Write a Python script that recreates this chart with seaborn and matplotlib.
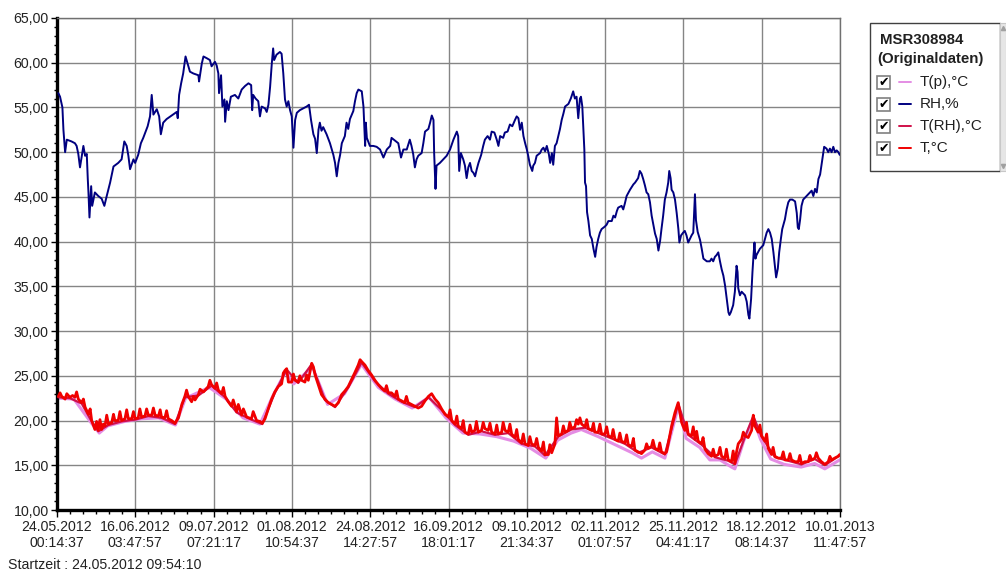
import numpy as np
import pandas as pd
import matplotlib
matplotlib.use("Agg")
import matplotlib.pyplot as plt
import seaborn as sns
from matplotlib.patches import Rectangle
from matplotlib.lines import Line2D
import matplotlib.ticker as mticker

sns.set_style("white")
plt.rcParams["font.family"] = ["Liberation Sans", "DejaVu Sans"]

# ---------------------------------------------------------------- axis labels
tick_dates = ["24.05.2012", "16.06.2012", "09.07.2012", "01.08.2012", "24.08.2012",
              "16.09.2012", "09.10.2012", "02.11.2012", "25.11.2012", "18.12.2012",
              "10.01.2013"]
tick_times = ["00:14:37", "03:47:57", "07:21:17", "10:54:37", "14:27:57",
              "18:01:17", "21:34:37", "01:07:57", "04:41:17", "08:14:37",
              "11:47:57"]
y_ticks = [10, 15, 20, 25, 30, 35, 40, 45, 50, 55, 60, 65]
logger_name = "MSR308984"
start_text = "Startzeit : 24.05.2012 09:54:10"

# ---------------------------------------------------------------- RH, %
# time in days since 24.05.2012 00:14:37
rh_day = [0.4, 0.9, 1.6, 1.9, 2.4, 2.9, 4.3, 5.3, 5.8, 6.3, 6.8, 7.8, 8.3, 8.8, 9.1, 9.3,
          9.6, 10.1, 10.4, 11.2, 12.2, 13.2, 14.0, 14.7, 15.7, 16.7, 18.1, 19.1, 19.9,
          20.6, 21.1, 21.6, 22.6, 23.1, 24.0, 24.8, 25.5, 26.8, 27.5, 28.0, 28.5, 29.5,
          30.2, 30.7, 31.4, 32.4, 33.9, 35.4, 35.7, 36.1, 36.7, 37.3, 38.0, 38.6, 39.3,
          40.3, 41.8, 42.0, 42.8, 43.3, 44.3, 45.2, 45.7, 46.7, 47.2, 47.7, 47.9, 48.5,
          48.9, 49.5, 49.7, 50.2, 50.7, 51.4, 52.6, 53.6, 54.6, 55.6, 56.6, 57.4, 57.7,
          58.0, 58.7, 59.5, 60.0, 60.5, 61.5, 62.0, 62.5, 63.0, 63.5, 63.9, 64.2, 64.9,
          65.9, 66.4, 66.9, 67.4, 67.9, 68.4, 68.9, 69.4, 69.9, 70.4, 70.9, 71.8, 72.8,
          73.8, 74.5, 75.1, 75.8, 76.3, 76.8, 77.3, 77.7, 78.2, 78.7, 79.7, 80.7, 81.7,
          82.2, 82.7, 83.2, 83.7, 84.2, 85.1, 85.6, 86.1, 86.6, 87.6, 88.1, 88.6, 89.1,
          90.1, 90.6, 91.1, 91.3, 91.6, 92.5, 93.5, 94.5, 95.5, 96.5, 97.5, 98.5, 98.9,
          99.9, 100.9, 101.7, 102.4, 103.4, 104.3, 104.8, 105.3, 105.8, 106.3, 106.8,
          107.8, 108.3, 108.8, 109.8, 110.3, 110.8, 111.3, 111.5, 111.9, 112.2, 113.2,
          114.2, 115.2, 116.2, 117.2, 118.2, 118.6, 118.9, 119.4, 120.1, 120.6, 121.1,
          121.6, 122.1, 122.6, 123.1, 123.6, 124.1, 124.6, 125.4, 126.0, 126.5, 127.3,
          128.0, 128.5, 129.3, 130.0, 130.5, 131.0, 131.9, 132.4, 133.2, 133.9, 134.6,
          135.4, 135.9, 136.4, 136.9, 137.4, 137.9, 138.4, 138.9, 139.3, 139.8, 140.5,
          140.8, 141.3, 141.8, 142.8, 143.3, 143.8, 144.3, 144.8, 145.4, 145.8, 146.3,
          146.7, 147.2, 147.7, 148.2, 148.7, 149.2, 149.7, 150.2, 151.2, 151.9, 152.6,
          153.1, 153.6, 154.1, 154.6, 154.9, 155.3, 155.6, 155.9, 156.1, 156.4, 156.7,
          157.1, 157.6, 158.1, 158.6, 159.1, 159.5, 160.0, 160.5, 161.0, 162.0, 162.5,
          163.0, 164.0, 164.5, 165.0, 165.5, 165.9, 166.9, 167.4, 167.9, 168.4, 169.4,
          170.4, 170.9, 171.8, 172.3, 172.8, 173.3, 173.8, 174.3, 174.8, 175.3, 175.8,
          176.3, 176.8, 177.3, 177.8, 178.3, 178.7, 179.2, 179.7, 180.2, 180.7, 181.0,
          181.4, 181.7, 182.2, 182.7, 183.2, 183.7, 184.0, 184.5, 185.1, 185.6, 186.1,
          186.6, 187.1, 187.6, 188.1, 188.6, 188.9, 189.4, 190.1, 190.6, 191.1, 192.1,
          193.0, 193.5, 194.0, 194.5, 195.0, 195.5, 196.0, 196.5, 197.0, 197.5, 198.0,
          198.5, 198.8, 199.2, 199.9, 200.4, 200.9, 201.2, 201.4, 201.9, 202.4, 202.9,
          203.4, 203.9, 204.4, 204.7, 205.2, 205.6, 205.9, 206.2, 206.5, 206.8, 207.8,
          208.8, 209.3, 209.8, 210.3, 210.8, 211.3, 211.8, 212.3, 212.6, 213.1, 213.5,
          214.0, 214.4, 215.2, 215.7, 216.2, 216.7, 217.4, 218.2, 218.7, 219.0, 219.3,
          219.7, 220.1, 220.6, 221.6, 222.6, 223.1, 223.6, 224.1, 224.6, 225.1, 225.6,
          226.1, 226.5, 226.8, 227.5, 228.0, 228.5, 229.0, 229.5, 230.0, 230.5, 231.0,
          231.4]
rh_val = [56.6, 56.2, 55.0, 52.5, 50.0, 51.4, 51.2, 51.0, 50.7, 49.8, 48.3, 50.7, 49.6,
          49.8, 47.0, 45.5, 42.7, 46.2, 44.0, 45.5, 45.1, 44.8, 44.0, 45.1, 46.6, 48.4,
          48.8, 49.2, 51.2, 50.7, 49.6, 48.1, 49.2, 48.8, 49.7, 51.0, 51.6, 52.9, 54.0,
          56.4, 54.2, 54.8, 54.0, 52.0, 53.3, 53.7, 54.1, 54.5, 53.8, 56.4, 57.7, 58.8,
          60.7, 59.9, 59.0, 58.8, 58.6, 57.9, 59.9, 60.7, 60.5, 60.3, 59.6, 60.1, 59.7,
          58.8, 56.6, 58.6, 55.1, 55.9, 53.4, 55.7, 54.7, 56.2, 56.4, 56.0, 57.0, 57.4,
          57.7, 57.5, 54.7, 56.4, 56.0, 55.7, 54.0, 55.1, 54.9, 54.5, 55.3, 57.3, 59.9,
          61.6, 60.3, 60.9, 61.2, 61.0, 58.8, 55.9, 55.1, 55.7, 54.7, 54.0, 50.5, 53.6,
          54.4, 54.7, 54.9, 55.1, 55.3, 53.6, 52.0, 51.5, 49.9, 52.5, 53.3, 52.4, 52.8,
          52.0, 51.0, 49.7, 48.8, 47.3, 48.8, 49.7, 51.0, 51.8, 53.3, 52.6, 53.7, 54.6,
          55.7, 56.6, 57.0, 56.8, 55.1, 50.7, 53.3, 51.6, 50.7, 50.7, 50.6, 50.3, 49.4,
          50.3, 50.7, 51.6, 51.3, 51.0, 49.4, 50.3, 50.3, 51.4, 50.7, 49.8, 48.3, 49.2,
          49.6, 49.9, 51.0, 52.3, 52.6, 53.3, 54.1, 53.6, 49.9, 45.9, 48.5, 48.8, 49.2,
          49.6, 50.3, 51.4, 52.3, 51.8, 47.9, 49.9, 49.2, 48.5, 47.1, 48.3, 48.8, 47.9,
          47.7, 47.3, 48.1, 48.8, 49.7, 50.7, 51.4, 51.8, 51.4, 52.3, 52.2, 51.4, 50.7,
          51.8, 51.6, 52.2, 52.3, 53.1, 52.9, 53.6, 54.0, 53.8, 52.5, 53.3, 51.8, 51.0,
          50.3, 49.6, 48.6, 47.9, 48.5, 48.8, 49.6, 49.9, 50.3, 50.5, 50.1, 50.7, 49.8,
          48.8, 49.9, 48.6, 50.7, 51.0, 51.8, 52.6, 53.6, 54.3, 55.1, 55.4, 56.0, 56.8,
          56.0, 56.2, 53.8, 56.0, 56.2, 55.1, 52.7, 50.3, 46.6, 46.2, 43.3, 42.3, 40.7,
          40.3, 39.2, 38.3, 39.4, 40.3, 41.0, 41.4, 41.7, 41.9, 42.3, 42.3, 42.9, 42.7,
          43.4, 43.8, 44.0, 43.6, 44.3, 45.1, 45.8, 46.4, 46.6, 47.1, 47.9, 47.6, 47.0,
          46.3, 45.5, 45.3, 44.4, 42.9, 41.9, 40.9, 40.3, 39.0, 40.1, 41.4, 42.9, 44.7,
          45.5, 46.6, 47.9, 47.1, 45.8, 45.5, 44.7, 43.2, 41.4, 39.9, 40.7, 41.0, 41.2,
          40.7, 39.9, 40.3, 40.7, 41.0, 45.3, 42.4, 41.1, 40.2, 39.2, 38.1, 37.8, 37.8,
          38.1, 37.8, 38.3, 38.5, 38.8, 37.8, 36.9, 36.2, 35.1, 33.6, 32.1, 31.8, 32.1,
          32.9, 34.4, 37.3, 36.6, 34.8, 34.0, 34.4, 34.2, 34.0, 33.3, 31.8, 31.4, 33.6,
          36.6, 38.4, 39.9, 38.1, 38.5, 39.2, 39.6, 40.3, 41.0, 41.4, 41.0, 40.3, 38.8,
          37.0, 36.0, 37.0, 38.8, 40.3, 41.4, 42.5, 43.6, 44.4, 44.7, 44.7, 44.5, 43.2,
          41.6, 41.4, 42.5, 44.0, 44.7, 45.1, 45.5, 45.7, 45.1, 45.9, 45.5, 47.0, 47.5,
          48.8, 49.9, 50.6, 50.4, 50.0, 50.4, 50.0, 50.6, 50.0, 50.2, 50.0, 49.7]

# ---------------------------------------------------------------- T, °C
t_day = [0.4, 0.9, 1.4, 2.4, 2.9, 3.8, 4.6, 5.3, 5.8, 6.3, 7.3, 7.8, 8.3, 9.3, 9.8, 10.25,
         11.2, 11.7, 12.2, 12.7, 13.2, 13.7, 14.2, 14.7, 15.2, 16.2, 16.7, 17.1, 18.1,
         18.6, 19.1, 20.1, 20.6, 21.1, 22.1, 22.6, 23.1, 24.0, 24.5, 25.0, 26.0, 26.5,
         27.0, 28.0, 28.5, 29.0, 30.0, 30.5, 30.9, 31.9, 32.4, 32.9, 33.9, 34.9, 35.9,
         36.9, 37.8, 38.3, 38.8, 39.8, 40.3, 40.8, 41.8, 42.3, 43.3, 44.7, 45.2, 45.7,
         46.7, 47.2, 47.7, 48.7, 49.2, 49.7, 50.65, 51.6, 52.1, 53.1, 53.6, 54.6, 55.1,
         56.05, 57.5, 58.0, 59.0, 60.0, 60.7, 61.5, 62.45, 63.45, 64.4, 65.4, 66.4,
         66.9, 67.4, 67.9, 68.4, 69.4, 69.9, 70.35, 71.3, 71.8, 72.3, 73.3, 73.8, 74.3,
         75.3, 75.8, 76.3, 77.25, 78.2, 79.2, 80.2, 81.2, 82.2, 83.2, 84.15, 85.1, 86.1,
         87.1, 88.1, 89.05, 89.6, 90.05, 91.05, 92.0, 93.0, 94.0, 95.0, 95.95, 96.9,
         97.4, 97.95, 98.9, 99.9, 100.4, 100.9, 101.9, 102.8, 103.3, 103.8, 104.8,
         105.8, 106.8, 107.8, 108.8, 109.8, 110.75, 111.75, 112.7, 113.7, 114.7, 115.7,
         116.2, 116.7, 117.7, 118.2, 118.6, 119.6, 120.1, 120.6, 121.6, 122.1, 122.6,
         123.55, 124.0, 124.55, 125.5, 126.0, 126.5, 127.5, 128.0, 128.5, 129.5, 130.0,
         130.45, 131.45, 131.9, 132.45, 133.4, 133.9, 134.4, 135.4, 135.9, 136.35,
         137.35, 137.85, 138.35, 139.3, 139.8, 140.3, 141.3, 141.8, 142.3, 143.3, 143.8,
         144.25, 145.25, 145.7, 146.25, 147.2, 147.7, 148.2, 149.2, 149.7, 150.15,
         151.15, 151.6, 152.1, 153.1, 153.6, 154.1, 154.6, 155.1, 156.1, 156.6, 157.1,
         158.1, 158.6, 159.0, 160.0, 160.5, 161.0, 162.0, 162.5, 163.0, 163.95, 164.4,
         164.95, 165.9, 166.4, 166.9, 167.9, 168.4, 168.9, 169.9, 170.4, 170.85, 171.85,
         172.8, 173.8, 174.3, 174.8, 175.75, 176.2, 176.75, 177.75, 178.2, 178.7, 179.7,
         180.2, 180.7, 181.7, 182.7, 183.65, 184.15, 184.65, 185.6, 186.1, 186.6, 187.6,
         188.1, 188.6, 189.1, 189.55, 190.55, 191.0, 191.55, 192.5, 193.5, 194.0, 194.5,
         195.5, 196.0, 196.5, 197.45, 197.9, 198.45, 199.4, 199.9, 200.4, 200.9, 201.4,
         202.4, 202.9, 203.4, 204.35, 205.35, 205.85, 206.3, 207.3, 207.8, 208.3, 209.3,
         209.8, 210.25, 211.25, 211.7, 212.25, 213.2, 214.2, 214.7, 215.2, 216.2, 216.7,
         217.15, 218.15, 219.15, 219.6, 220.1, 221.1, 222.1, 222.6, 223.05, 224.05,
         224.5, 225.05, 226.0, 227.0, 228.0, 228.5, 229.0, 229.9, 230.9, 231.4]
t_val = [22.7, 23.1, 22.7, 22.4, 23.0, 22.6, 22.8, 22.6, 23.2, 22.4, 22.0, 22.4, 21.5,
         20.7, 21.3, 20.0, 19.0, 19.9, 18.9, 20.1, 19.0, 19.6, 19.4, 20.6, 19.6, 19.8,
         20.7, 20.0, 20.0, 21.0, 20.0, 20.2, 21.2, 20.2, 20.2, 21.0, 20.2, 20.3, 21.3,
         20.4, 20.5, 21.3, 20.6, 20.6, 21.4, 20.6, 20.5, 21.2, 20.4, 20.3, 21.1, 20.2,
         20.0, 19.7, 20.3, 21.8, 22.7, 23.4, 22.7, 22.1, 22.7, 22.3, 22.9, 23.5, 23.2,
         23.8, 24.5, 24.0, 23.6, 24.2, 23.4, 23.0, 23.7, 22.7, 22.1, 21.6, 22.3, 21.0,
         21.8, 20.6, 21.3, 20.4, 20.2, 21.0, 20.0, 19.9, 19.7, 20.2, 21.3, 22.4, 23.2,
         23.8, 24.1, 25.3, 25.6, 25.8, 24.3, 24.3, 25.2, 24.5, 24.3, 25.0, 24.5, 24.3,
         25.1, 24.5, 26.4, 26.0, 25.1, 24.0, 22.9, 22.4, 22.0, 21.8, 21.6, 22.0, 22.9,
         23.3, 23.8, 24.6, 25.4, 26.2, 26.8, 26.6, 26.2, 25.6, 25.1, 24.5, 24.0, 23.6,
         23.3, 23.9, 23.1, 23.1, 22.7, 23.3, 22.4, 22.2, 22.0, 22.7, 22.0, 21.8, 21.6,
         21.4, 21.6, 22.2, 22.7, 23.0, 22.4, 22.0, 21.3, 20.7, 20.4, 21.2, 20.0, 19.6,
         20.5, 19.4, 19.1, 20.0, 18.7, 18.5, 19.5, 18.7, 18.9, 19.9, 18.7, 18.9, 19.8,
         19.1, 18.9, 19.7, 18.7, 18.5, 19.5, 18.5, 18.7, 19.8, 18.9, 18.7, 19.6, 18.5,
         18.1, 19.0, 17.9, 17.5, 18.5, 17.4, 17.2, 18.2, 17.4, 17.2, 18.0, 17.0, 16.6,
         17.6, 16.2, 16.2, 17.3, 16.4, 17.4, 20.3, 18.3, 18.5, 19.4, 18.7, 18.9, 19.8,
         19.1, 19.3, 20.1, 19.6, 20.3, 19.6, 19.3, 20.1, 19.1, 18.9, 19.7, 18.7, 18.7,
         19.6, 18.5, 18.5, 19.3, 18.3, 18.1, 19.0, 17.9, 17.7, 18.6, 17.7, 17.5, 18.4,
         17.3, 17.1, 18.0, 16.7, 16.5, 16.3, 16.7, 17.4, 16.9, 17.1, 17.8, 16.9, 16.7,
         17.5, 16.5, 16.3, 16.5, 17.4, 19.4, 20.9, 22.0, 20.9, 19.8, 18.9, 19.8, 18.5,
         18.3, 19.3, 17.9, 18.8, 17.7, 17.4, 18.1, 16.8, 16.3, 16.0, 16.8, 16.0, 16.2,
         17.0, 16.0, 15.8, 16.8, 15.6, 15.4, 16.6, 15.2, 16.5, 17.4, 17.9, 18.7, 18.3,
         18.1, 18.9, 20.6, 19.4, 18.7, 19.5, 18.3, 17.7, 18.5, 16.9, 16.2, 17.0, 16.0,
         15.8, 15.8, 16.5, 15.6, 15.6, 16.3, 15.6, 15.4, 15.4, 16.1, 15.2, 15.4, 15.4,
         16.1, 15.6, 15.8, 16.4, 15.8, 15.4, 15.1, 15.4, 16.0, 15.6, 15.8, 16.0, 16.2]

# ---------------------------------------------------------------- T(RH), °C
trh_day = [0.4, 3.8, 7.3, 10.25, 12.2, 15.2, 19.1, 23.1, 27.0, 30.9, 34.9, 37.8, 41.8,
           45.7, 49.7, 53.1, 57.5, 60.7, 64.4, 67.9, 71.3, 75.3, 79.2, 82.2, 86.1, 90.05,
           94.0, 97.95, 101.9, 105.8, 109.8, 113.7, 117.7, 121.6, 125.5, 129.5, 133.4,
           137.35, 141.3, 144.25, 148.2, 152.1, 156.1, 160.0, 163.95, 167.9, 171.85,
           175.75, 179.7, 183.65, 186.6, 190.55, 194.5, 198.45, 200.4, 203.4, 205.85,
           208.3, 212.25, 216.2, 220.1, 224.05, 227.0, 231.4]
trh_val = [22.6, 22.5, 21.9, 19.9, 18.8, 19.5, 19.9, 20.1, 20.5, 20.3, 19.6, 22.6, 22.8,
           23.9, 22.6, 20.9, 20.1, 19.6, 23.1, 25.7, 24.2, 26.3, 22.3, 21.5, 23.7, 26.5,
           24.4, 23.0, 22.1, 21.5, 22.6, 21.2, 19.5, 18.4, 18.8, 18.4, 18.6, 17.4, 17.1,
           16.1, 18.2, 19.0, 19.2, 18.6, 18.0, 17.4, 16.4, 17.0, 16.2, 21.9, 18.4, 17.3,
           15.9, 15.5, 15.1, 18.2, 20.5, 18.2, 15.9, 15.5, 15.1, 15.7, 15.0, 16.1]

# ---------------------------------------------------------------- T(p), °C
tp_day = [0.4, 5.0, 10.0, 12.5, 15.0, 20.0, 25.0, 30.0, 35.0, 38.0, 45.0, 50.0, 55.0,
          60.0, 64.0, 67.5, 70.0, 75.5, 80.0, 85.0, 90.0, 95.0, 100.0, 105.0, 110.0,
          115.0, 120.0, 125.0, 130.0, 135.0, 140.0, 144.5, 148.0, 152.0, 155.0, 160.0,
          165.0, 170.0, 172.8, 176.0, 179.7, 183.7, 186.0, 190.0, 193.0, 196.0, 199.4,
          200.4, 203.0, 205.8, 208.0, 211.0, 215.0, 220.0, 224.0, 227.0, 231.4]
tp_val = [22.5, 22.4, 19.8, 18.6, 19.4, 19.9, 20.2, 20.3, 19.5, 22.5, 23.7, 22.4, 20.3,
          19.6, 22.9, 25.4, 24.1, 26.0, 21.8, 23.0, 26.3, 23.7, 22.4, 21.4, 22.6, 20.3,
          18.6, 18.5, 18.2, 17.7, 16.9, 15.8, 17.8, 18.6, 19.0, 18.2, 17.3, 16.4, 15.8,
          16.5, 15.8, 21.6, 18.0, 17.0, 15.6, 15.6, 14.8, 14.6, 17.7, 20.2, 17.9, 15.7,
          15.1, 14.8, 15.2, 14.6, 15.6]

series_names = ["T(p),°C", "RH,%", "T(RH),°C", "T,°C"]
series_colors = ["#e48de4", "#000080", "#d0104a", "#f00000"]

# ---------------------------------------------------------------- time axis
tick_pos = pd.to_datetime([f"{d} {t}" for d, t in zip(tick_dates, tick_times)],
                          format="%d.%m.%Y %H:%M:%S")
origin = tick_pos[0]


def as_time(days):
    return origin + pd.to_timedelta(np.asarray(days, dtype=float), unit="D")


frames = {
    "T(p)": pd.DataFrame({"t": as_time(tp_day), "v": tp_val}),
    "RH": pd.DataFrame({"t": as_time(rh_day), "v": rh_val}),
    "T(RH)": pd.DataFrame({"t": as_time(trh_day), "v": trh_val}),
    "T": pd.DataFrame({"t": as_time(t_day), "v": t_val}),
}

fig = plt.figure(figsize=(10.06, 5.76), dpi=100)
fig.patch.set_facecolor("white")
ax = fig.add_axes([57 / 1006, 1 - 510 / 576, 783 / 1006, 492 / 576])

sns.lineplot(data=frames["T(p)"], x="t", y="v", ax=ax, color=series_colors[0],
             lw=2.2, estimator=None, sort=False, zorder=2)
sns.lineplot(data=frames["T(RH)"], x="t", y="v", ax=ax, color=series_colors[2],
             lw=1.6, estimator=None, sort=False, zorder=3)
sns.lineplot(data=frames["T"], x="t", y="v", ax=ax, color=series_colors[3],
             lw=2.0, estimator=None, sort=False, zorder=4)
sns.lineplot(data=frames["RH"], x="t", y="v", ax=ax, color=series_colors[1],
             lw=1.4, estimator=None, sort=False, zorder=5)

ax.set_xlim(tick_pos[0], tick_pos[-1])
ax.set_ylim(y_ticks[0], y_ticks[-1])
ax.set_xlabel("")
ax.set_ylabel("")

ax.set_xticks(tick_pos, labels=[f"{d}\n{t}" for d, t in zip(tick_dates, tick_times)])
step = tick_pos[1] - tick_pos[0]
minor = [tick_pos[0] + step * k / 6 for k in range(6 * (len(tick_pos) - 1) + 1)]
ax.set_xticks(minor, minor=True)
ax.set_yticks(y_ticks)
ax.yaxis.set_minor_locator(mticker.MultipleLocator(1))
ax.yaxis.set_major_formatter(
    mticker.FuncFormatter(lambda v, p: f"{v:.2f}".replace(".", ",")))

ax.grid(True, which="major", color="#858585", lw=1.0)
ax.set_axisbelow(True)
ax.tick_params(axis="x", which="major", length=5, width=1, color="black",
               labelsize=10.2, pad=2, direction="out", bottom=True)
ax.tick_params(axis="x", which="minor", length=3, width=1, color="black",
               direction="out", bottom=True)
ax.tick_params(axis="y", which="major", length=4, width=1, color="black",
               labelsize=10.2, pad=2, direction="out", left=True)
ax.tick_params(axis="y", which="minor", length=2, width=1, color="black",
               direction="out", left=True)
for lab in ax.get_xticklabels():
    lab.set_linespacing(1.2)
    lab.set_color("#222222")
for lab in ax.get_yticklabels():
    lab.set_color("#222222")

for side in ("left", "bottom"):
    ax.spines[side].set_color("black")
    ax.spines[side].set_linewidth(2.4)
for side in ("top", "right"):
    ax.spines[side].set_color("#707070")
    ax.spines[side].set_linewidth(1.0)

fig.text(8 / 1006, 1 - 565 / 576, start_text, fontsize=10.2, color="#222222",
         ha="left", va="center")

# ---------------------------------------------------------------- legend panel
lg = fig.add_axes([0, 0, 1, 1], zorder=10)
lg.set_xlim(0, 1006)
lg.set_ylim(576, 0)
lg.axis("off")
lg.patch.set_alpha(0)

lg.add_patch(Rectangle((870, 23), 130, 148, facecolor="white", edgecolor="#404040", lw=1))
lg.add_patch(Rectangle((1000, 23), 6, 148, facecolor="#e6e6e6", edgecolor="#c8c8c8", lw=0.8))
lg.plot([1003], [28], marker="^", ms=3, color="#a0a0a0")
lg.plot([1003], [166], marker="v", ms=3, color="#a0a0a0")
lg.text(880, 40, logger_name, fontsize=10.8, fontweight="bold", color="#202020",
        ha="left", va="center")
lg.text(877, 59, "(Originaldaten)", fontsize=10.8, fontweight="bold", color="#202020",
        ha="left", va="center")

row_y = [82, 104, 126, 148]
for name, color, y in zip(series_names, series_colors, row_y):
    lg.add_patch(Rectangle((877, y - 6.5), 13, 13, facecolor="white",
                           edgecolor="#808080", lw=1.2))
    lg.text(883.5, y + 0.5, "\u2714", fontsize=9, color="black", ha="center", va="center",
            family="DejaVu Sans")
    lg.add_artist(Line2D([899, 911], [y, y], color=color, lw=1.4))
    lg.text(920, y, name, fontsize=11, color="#202020", ha="left", va="center")

fig.savefig("out.png", dpi=100, facecolor="white")
